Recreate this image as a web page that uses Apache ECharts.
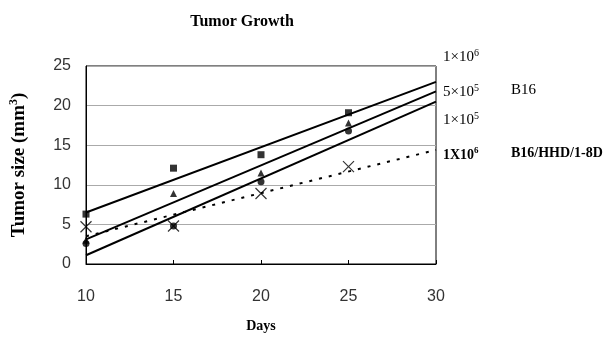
<!DOCTYPE html>
<html><head><meta charset="utf-8">
<script src="https://cdn.jsdelivr.net/npm/echarts@6/dist/echarts.min.js"></script>
<style>html,body{margin:0;padding:0;background:#fff}#c{width:611px;height:338px}</style>
</head><body><div id="c"></div>
<script>
var days = [10, 15, 20, 25];
var sq1e6 = [6.3, 12.1, 13.8, 19.1];
var tri5e5 = [3.0, 8.9, 11.5, 17.8];
var cir1e5 = [2.6, 4.8, 10.4, 16.8];
var hhd1e6 = [4.7, 4.8, 8.9, 12.3];
var trendX = [10, 30];
var trendSq = [6.5, 23.0];
var trendTri = [3.1, 21.8];
var trendCir = [1.1, 20.5];
var trendHhd = [3.5, 14.4];
var xTicks = [10, 15, 20, 25, 30];
var yTicks = [0, 5, 10, 15, 20, 25];

function pts(xs, ys){ return xs.map(function(x,i){ return [x, ys[i]]; }); }
var serif = '"Liberation Serif", "Times New Roman", serif';
var sans = '"Liberation Sans", Arial, sans-serif';
var supRich = {
  b: {fontFamily: serif, fontSize: 15, color: '#000', lineHeight: 18},
  s: {fontFamily: serif, fontSize: 10, color: '#000', verticalAlign: 'top', lineHeight: 18},
  bb: {fontFamily: serif, fontSize: 14, fontWeight: 'bold', color: '#000', lineHeight: 18},
  bs: {fontFamily: serif, fontSize: 9, fontWeight: 'bold', color: '#000', verticalAlign: 'top', lineHeight: 18}
};
function lbl(x, y, str){
  return {type: 'text', left: x, top: y, style: {text: str, rich: supRich, font: '14px ' + serif}};
}
var chart = echarts.init(document.getElementById('c'));
var lineBase = {type: 'line', symbol: 'none', silent: true, z: 2};
chart.setOption({
  animation: false,
  title: {text: 'Tumor Growth', left: 237, textAlign: 'center', top: 9,
    textStyle: {fontFamily: serif, fontSize: 16, fontWeight: 'bold', color: '#000'}},
  grid: {left: 85, right: 175, top: 66, bottom: 74, show: true, borderColor: '#000', borderWidth: 1},
  xAxis: {type: 'value', min: 10, max: 30, interval: 5,
    name: 'Days', nameLocation: 'middle', nameGap: 55,
    nameTextStyle: {fontFamily: serif, fontSize: 14, fontWeight: 'bold', color: '#000'},
    axisLine: {show: true, lineStyle: {color: '#000', width: 1}},
    axisTick: {show: true, inside: true, length: 4, lineStyle: {color: '#000'}},
    axisLabel: {fontFamily: sans, fontSize: 16, color: '#333', margin: 25,
      formatter: function(v){ return xTicks.indexOf(v) >= 0 ? String(v) : ''; }},
    splitLine: {show: false}},
  yAxis: {type: 'value', min: 0, max: 25, interval: 5,
    name: 'Tumor size (mm{s|3})', nameLocation: 'middle', nameGap: 56,
    nameTextStyle: {fontFamily: serif, fontSize: 19, fontWeight: 'bold', color: '#000',
      rich: {s: {fontFamily: serif, fontSize: 12, fontWeight: 'bold', color: '#000', verticalAlign: 'top', lineHeight: 22}}},
    axisLine: {show: true, lineStyle: {color: '#000', width: 1}},
    axisTick: {show: false},
    axisLabel: {fontFamily: sans, fontSize: 16, color: '#333', margin: 15,
      formatter: function(v){ return yTicks.indexOf(v) >= 0 ? String(v) : ''; }},
    splitLine: {show: true, lineStyle: {color: '#aaa', width: 1}}},
  graphic: [
    lbl(443, 48, '{b|1×10}{s|6}'),
    lbl(443, 83, '{b|5×10}{s|5}'),
    lbl(511, 83, '{b|B16}'),
    lbl(443, 111, '{b|1×10}{s|5}'),
    lbl(443, 146, '{bb|1X10}{bs|6}'),
    lbl(511, 146, '{bb|B16/HHD/1-8D}')
  ],
  series: [
    Object.assign({}, lineBase, {data: pts(trendX, trendSq), lineStyle: {color: '#000', width: 2}}),
    Object.assign({}, lineBase, {data: pts(trendX, trendTri), lineStyle: {color: '#000', width: 2}}),
    Object.assign({}, lineBase, {data: pts(trendX, trendCir), lineStyle: {color: '#000', width: 2}}),
    Object.assign({}, lineBase, {data: pts(trendX, trendHhd), lineStyle: {color: '#000', width: 2, type: [3, 7]}}),
    {type: 'scatter', data: pts(days, sq1e6), symbol: 'rect', symbolSize: 7, itemStyle: {color: '#000'}, z: 3},
    {type: 'scatter', data: pts(days, tri5e5), symbol: 'triangle', symbolSize: 7, itemStyle: {color: '#000'}, z: 3},
    {type: 'scatter', data: pts(days, cir1e5), symbol: 'circle', symbolSize: 7, itemStyle: {color: '#000'}, z: 3},
    {type: 'scatter', data: pts(days, hhd1e6), symbol: 'path://M0,0L10,10M10,0L0,10', symbolSize: 11,
      itemStyle: {color: 'none', borderColor: '#000', borderWidth: 1.2}, z: 4}
  ]
});
</script></body></html>
